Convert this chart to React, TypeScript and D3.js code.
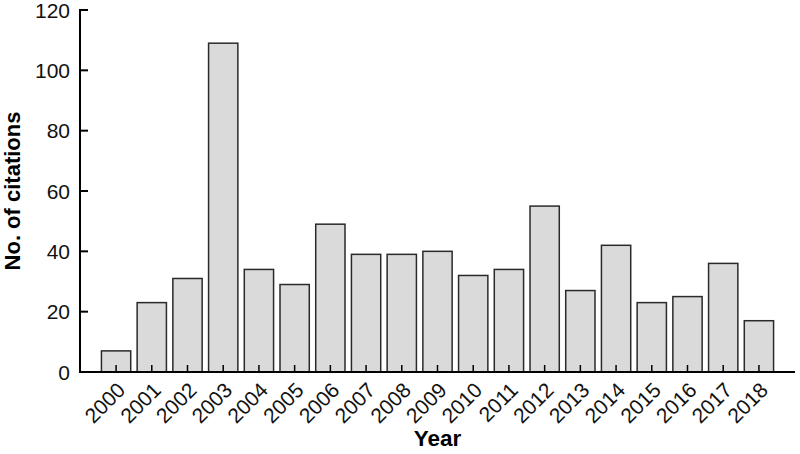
import * as React from 'react';
import * as d3 from 'd3';

const years = ['2000', '2001', '2002', '2003', '2004', '2005', '2006', '2007', '2008', '2009',
  '2010', '2011', '2012', '2013', '2014', '2015', '2016', '2017', '2018'];
const citations = [7, 23, 31, 109, 34, 29, 49, 39, 39, 40, 32, 34, 55, 27, 42, 23, 25, 36, 17];
const yTicks = [0, 20, 40, 60, 80, 100, 120];

const App = () => {
  const width = 800;
  const height = 454;
  const left = 80, right = 795, top = 10, bottom = 372;
  const font = 'Liberation Sans, Arial, sans-serif';

  const x = d3.scaleBand<string>().domain(years).range([left, right]).paddingInner(0.18).paddingOuter(0.6);
  const y = d3.scaleLinear().domain([0, 120]).range([bottom, top]);

  return (
    <svg width={width} height={height} style={{position: 'absolute', left: 0, top: 0, background: '#fff'}}>
      {years.map((yr, i) => (
        <rect key={yr} x={x(yr)} y={y(citations[i])} width={x.bandwidth()} height={y(0) - y(citations[i])}
          fill="#dadada" stroke="#2a2a2a" strokeWidth={1.5} />
      ))}
      {/* y axis */}
      <line x1={left} x2={left} y1={top - 1} y2={bottom} stroke="#000" strokeWidth={2} />
      {yTicks.map(t => (
        <g key={t}>
          <line x1={left} x2={left + 8} y1={y(t)} y2={y(t)} stroke="#000" strokeWidth={2} />
          <text x={left - 10} y={y(t)} dy="0.36em" textAnchor="end" fontFamily={font} fontSize={21} fill="#111">{t}</text>
        </g>
      ))}
      {/* x axis */}
      <line x1={left - 1} x2={right} y1={bottom} y2={bottom} stroke="#000" strokeWidth={2} />
      {years.map(yr => {
        const cx = (x(yr) as number) + x.bandwidth() / 2;
        return (
          <g key={yr}>
            <line x1={cx} x2={cx} y1={bottom} y2={bottom - 7} stroke="#000" strokeWidth={1.5} />
            <text transform={`translate(${cx},${bottom + 9}) rotate(-45)`} textAnchor="end" dy="0.7em"
              fontFamily={font} fontSize={21} fill="#111">{yr}</text>
          </g>
        );
      })}
      <text x={(left + right) / 2} y={446} textAnchor="middle" fontFamily={font} fontSize={22.5} fontWeight="bold">Year</text>
      <text transform={`translate(20,191) rotate(-90)`} textAnchor="middle" fontFamily={font}
        fontSize={22} fontWeight="bold">No. of citations</text>
    </svg>
  );
};

export default App;
